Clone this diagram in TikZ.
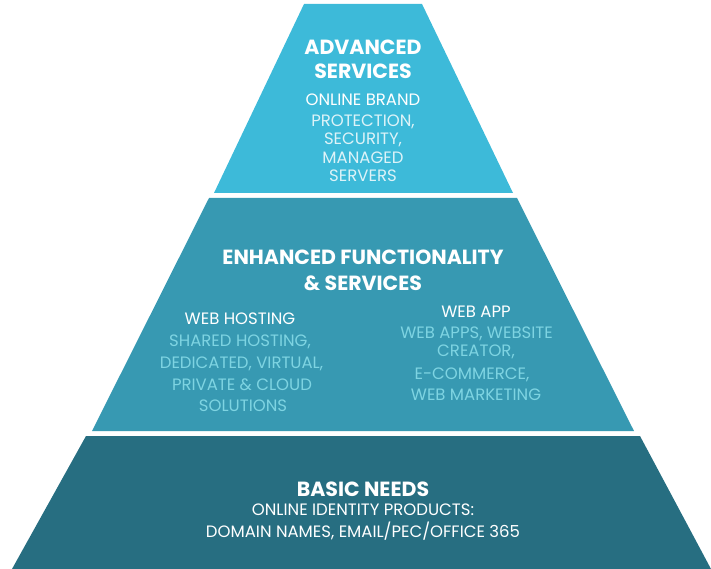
\documentclass[tikz,border=0pt]{standalone}
\usepackage{fontspec}
\setmainfont{Poppins}
\begin{document}
\begin{tikzpicture}[x=1pt,y=-1pt,
  tiertop/.style={fill=topblue},
  tiermid/.style={fill=midblue},
  tierbase/.style={fill=baseblue},
  title/.style={text=white,font=\fontsize{20.5}{20.5}\selectfont\bfseries,inner sep=0pt},
  label/.style={text=white,font=\fontsize{16.5}{16.5}\selectfont,inner sep=0pt},
  detail/.style={text=softcyan,font=\fontsize{16.5}{16.5}\selectfont,inner sep=0pt},
  pale/.style={text=palecyan,font=\fontsize{16.5}{16.5}\selectfont,inner sep=0pt}]
\definecolor{topblue}{HTML}{3DBAD9}
\definecolor{midblue}{HTML}{3799B2}
\definecolor{baseblue}{HTML}{276E81}
\definecolor{softcyan}{HTML}{7ED4E2}
\definecolor{palecyan}{HTML}{DDF3F8}
\useasboundingbox (0,0) rectangle (711,569);

% the three tiers of the pyramid
\fill[tiertop]  (304,4)   -- (422,4)   -- (513,193) -- (214,193) -- cycle;
\fill[tiermid]  (209,198) -- (517,198) -- (634,431) -- (92,431)  -- cycle;
\fill[tierbase] (86,436)  -- (640,436) -- (711,569) -- (12,569)  -- cycle;

% top tier
\node[title] (adv1) at (363,47) {ADVANCED};
\node[title] (adv2) at (363,71.5) {SERVICES};
\node[label] (adv3) at (363,100) {ONLINE BRAND};
\node[pale]  (adv4) at (363,122) {PROTECTION,};
\node[pale]  (adv5) at (363,140) {SECURITY,};
\node[pale]  (adv6) at (363,158) {MANAGED};
\node[pale]  (adv7) at (363,176) {SERVERS};

% middle tier
\node[title] (enh1) at (363,257) {ENHANCED FUNCTIONALITY};
\node[title] (enh2) at (363,283) {\& SERVICES};
\node[label]  (host0) at (240,319) {WEB HOSTING};
\node[detail] (host1) at (240,342) {SHARED HOSTING,};
\node[detail] (host2) at (241.5,364) {DEDICATED, VIRTUAL,};
\node[detail] (host3) at (242,385) {PRIVATE \& CLOUD};
\node[detail] (host4) at (243,406) {SOLUTIONS};
\node[label]  (app0) at (476,312) {WEB APP};
\node[detail] (app1) at (476.5,334) {WEB APPS, WEBSITE};
\node[detail] (app2) at (476,352) {CREATOR,};
\node[detail] (app3) at (472,375) {E-COMMERCE,};
\node[detail] (app4) at (476,395) {WEB MARKETING};

% base tier
\node[title] (base1) at (363,489) {BASIC NEEDS};
\node[label] (base2) at (363,510) {ONLINE IDENTITY PRODUCTS:};
\node[label] (base3) at (363,531) {DOMAIN NAMES, EMAIL/PEC/OFFICE 365};
\end{tikzpicture}
\end{document}
